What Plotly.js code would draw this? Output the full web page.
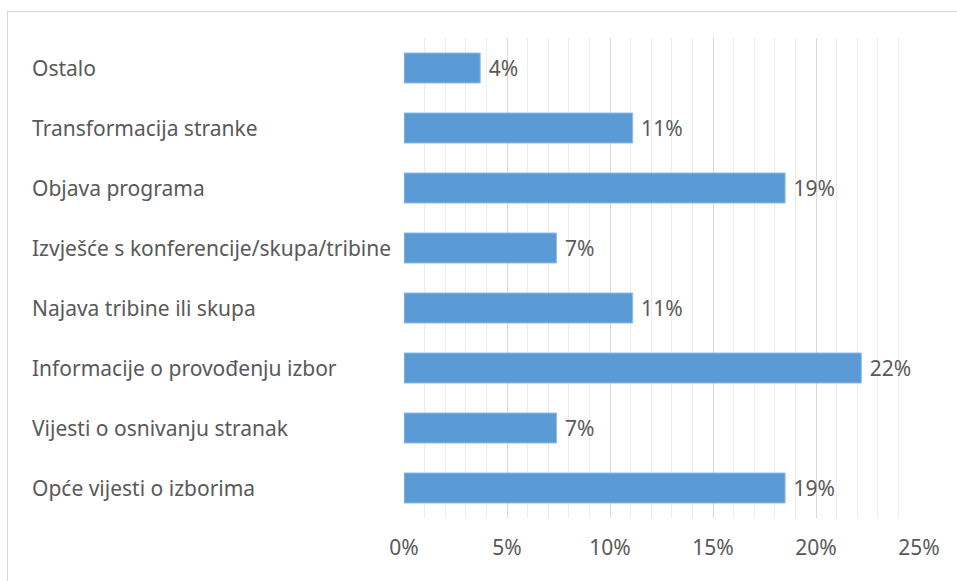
<!DOCTYPE html>
<html>
<head>
<meta charset="utf-8">
<script src="https://cdn.plot.ly/plotly-3.0.1.min.js"></script>
<style>
  html, body { margin: 0; padding: 0; background: #ffffff; overflow: hidden; }
  #frame { position: absolute; left: 7px; top: 11px; width: 1000px; height: 700px; border: 1px solid #d9d9d9; box-sizing: border-box; }
  #chart { position: absolute; left: 0; top: 0; width: 957px; height: 581px; }
</style>
</head>
<body>
<div id="frame"></div>
<div id="chart"></div>
<script>
// Categories, top to bottom as shown
const categories = [
  "Ostalo",
  "Transformacija stranke",
  "Objava programa",
  "Izvješće s konferencije/skupa/tribine",
  "Najava tribine ili skupa",
  "Informacije o provođenju izbor",
  "Vijesti o osnivanju stranak",
  "Opće vijesti o izborima"
];
// Share of items (fraction)
const shares = [0.037, 0.111, 0.185, 0.074, 0.111, 0.222, 0.074, 0.185];
const tickValues = [0, 0.05, 0.10, 0.15, 0.20, 0.25];

const textColor = "#595959";
const fontFamily = "'Noto Sans', 'Open Sans', sans-serif";
const fs = 21;

const trace = {
  type: "bar",
  orientation: "h",
  y: categories,
  x: shares,
  marker: { color: "#5b9bd5", line: { color: "#8fbbe6", width: 1 } },
  texttemplate: "\u00a0%{x:.0%}",
  textposition: "outside",
  cliponaxis: false,
  textfont: { family: fontFamily, size: fs, color: textColor },
  hoverinfo: "none"
};

const annotations = categories.map(c => ({
  xref: "paper", yref: "y",
  x: -0.726, y: c,
  xanchor: "left", yanchor: "middle",
  text: c, showarrow: false,
  font: { family: fontFamily, size: fs, color: textColor }
}));

const layout = {
  width: 957, height: 581,
  margin: { l: 404, r: 38, t: 38, b: 63 },
  paper_bgcolor: "rgba(0,0,0,0)",
  plot_bgcolor: "rgba(0,0,0,0)",
  showlegend: false,
  bargap: 0.5,
  font: { family: fontFamily, color: textColor, size: fs },
  xaxis: {
    range: [0, 0.25],
    tickvals: tickValues,
    tickformat: ".0%",
    showgrid: true,
    gridcolor: "#d9d9d9",
    gridwidth: 1,
    zeroline: false,
    showline: false,
    ticks: "",
    ticklabelstandoff: 15,
    tickfont: { family: fontFamily, size: fs, color: textColor },
    minor: { dtick: 0.01, showgrid: true, gridcolor: "#ececec", gridwidth: 1 },
    fixedrange: true
  },
  yaxis: {
    autorange: "reversed",
    showticklabels: false,
    showgrid: false,
    zeroline: false,
    showline: false,
    ticks: "",
    fixedrange: true
  },
  annotations: annotations
};

Plotly.newPlot("chart", [trace], layout, { displayModeBar: false, staticPlot: true });
</script>
</body>
</html>
